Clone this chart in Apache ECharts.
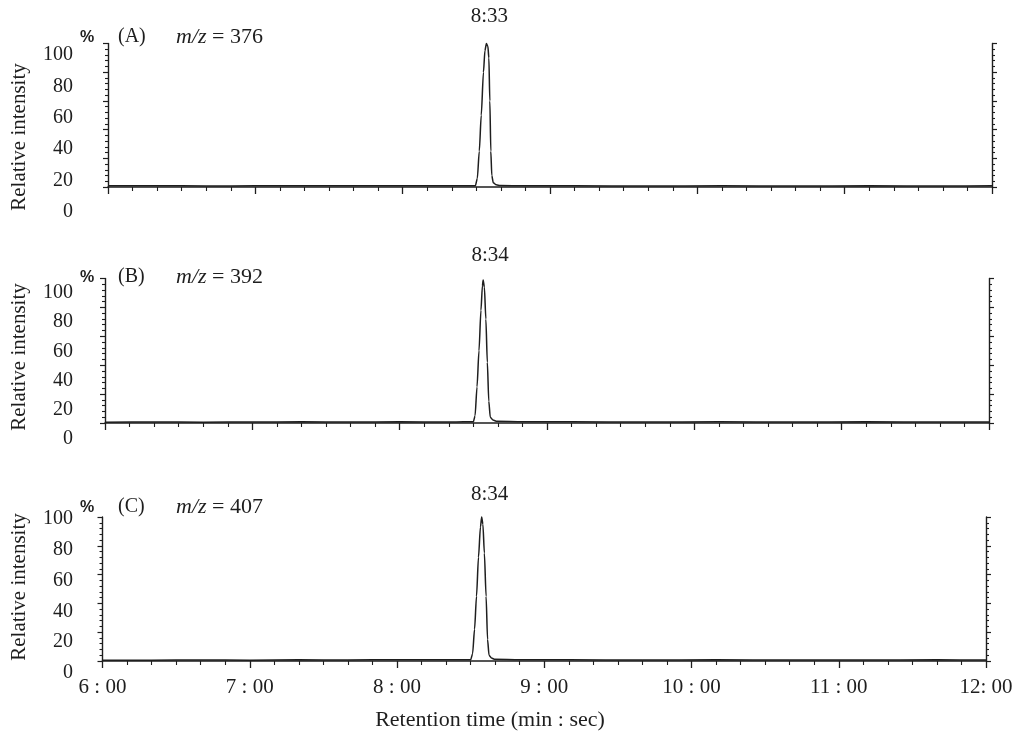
<!DOCTYPE html>
<html>
<head>
<meta charset="utf-8">
<script src="https://cdn.jsdelivr.net/npm/echarts@6/dist/echarts.min.js"></script>
<style>
html,body{margin:0;padding:0;background:#ffffff;}
#chart{width:1024px;height:738px;}
</style>
</head>
<body>
<div id="chart"></div>
<script>
// ---------------- data ----------------
const panelNames = ['(A)', '(B)', '(C)'];
const mzValues = ['376', '392', '407'];
const peakLabels = ['8:33', '8:34', '8:34'];
const xTickValues = [360, 420, 480, 540, 600, 660, 720];
const xTickLabels = ['6 : 00', '7 : 00', '8 : 00', '9 : 00', '10 : 00', '11 : 00', '12: 00'];
const yTickLabels = ['0', '20', '40', '60', '80', '100'];
const yAxisTitle = 'Relative intensity';
const xAxisTitle = 'Retention time (min : sec)';

// retention time in seconds, relative intensity in %
const timesA = [360, 380, 400, 420, 440, 460, 480, 500, 506, 509.6, 510.4, 511.2, 512.0, 512.9, 513.5, 514.1, 514.7, 515.1, 515.5, 515.9, 516.3, 516.9, 518.1, 519.7, 530, 550, 580, 610, 640, 670, 700, 720];
const intensityA = [0.8, 0.9, 0.7, 0.8, 0.9, 0.8, 0.9, 0.8, 0.9, 0.9, 6, 25, 50, 80, 95, 100, 98, 90, 60, 25, 8, 3, 1.5, 1.0, 0.8, 0.8, 0.7, 0.8, 0.7, 0.8, 0.7, 0.8];

const timesB = [360, 380, 400, 420, 440, 460, 480, 500, 506, 510.0, 510.7, 511.5, 512.3, 513.1, 513.7, 514.0, 514.5, 515.1, 515.7, 516.3, 516.9, 518.0, 519.6, 530, 550, 580, 610, 640, 670, 700, 720];
const intensityB = [0.6, 0.7, 0.6, 0.7, 0.8, 0.7, 0.8, 0.7, 0.8, 0.8, 5, 25, 50, 78, 95, 99, 94, 72, 42, 15, 4, 2, 1.2, 0.9, 0.8, 0.7, 0.8, 0.7, 0.8, 0.7, 0.7];

const timesC = [360, 380, 400, 420, 440, 460, 480, 500, 506, 510.0, 510.8, 511.6, 512.4, 513.2, 514.0, 514.5, 515.0, 515.6, 516.3, 516.9, 517.5, 518.5, 519.9, 530, 550, 580, 610, 640, 670, 700, 720];
const intensityC = [0.5, 0.6, 0.7, 0.6, 0.8, 0.7, 0.9, 0.8, 0.8, 0.8, 5, 22, 45, 72, 93, 100, 95, 75, 45, 15, 4, 2, 1.2, 0.9, 0.8, 0.7, 0.8, 0.7, 0.7, 0.8, 0.7];

const panelTimes = [timesA, timesB, timesC];
const panelIntensity = [intensityA, intensityB, intensityC];

// ---------------- layout ----------------
const plotLeft = [108, 105, 102.5];
const plotRight = [992, 989, 986];
const plotTop = [43.5, 278.5, 517];
const plotBase = [187, 423, 661];
const labelTop = [55, 293, 519];
const labelBottom = [212, 439, 673];
const labelRightEdge = 73;
const yTitleCenter = [137, 357, 587];
const headerY = [37, 277, 507];
const peakLabelDist = [17, 14, 12];
const peakLabelOffset = [3, 7, 8];

const ink = '#1e1e1e';
const serif = '"Liberation Serif", "Times New Roman", serif';

const grids = [], xAxes = [], yAxes = [], series = [], graphics = [];

for (let i = 0; i < 3; i++) {
  grids.push({
    left: plotLeft[i], width: plotRight[i] - plotLeft[i],
    top: plotTop[i], height: plotBase[i] - plotTop[i],
    containLabel: false
  });
  grids.push({
    left: plotLeft[i], width: plotRight[i] - plotLeft[i],
    top: labelTop[i], height: labelBottom[i] - labelTop[i],
    containLabel: false
  });

  xAxes.push({
    gridIndex: 2 * i, type: 'value', min: 360, max: 720, interval: 60,
    axisLine: { show: true, lineStyle: { color: ink, width: 1.6 } },
    axisTick: { show: true, length: 7, lineStyle: { color: ink, width: 1.3 } },
    minorTick: { show: true, splitNumber: 6, length: 4, lineStyle: { color: ink, width: 1.1 } },
    splitLine: { show: false },
    axisLabel: {
      show: i === 2, margin: 16, color: ink, fontFamily: serif, fontSize: 21,
      formatter: function (v) { const k = xTickValues.indexOf(v); return k >= 0 ? xTickLabels[k] : ''; }
    }
  });
  xAxes.push({
    gridIndex: 2 * i + 1, type: 'value', min: 0, max: 1, show: false
  });

  const plotY = {
    gridIndex: 2 * i, type: 'value', min: 0, max: 100, interval: 20,
    axisLine: { show: true, onZero: false, lineStyle: { color: ink, width: 1.4 } },
    axisTick: { show: true, length: 5, lineStyle: { color: ink, width: 1.2 } },
    minorTick: { show: true, splitNumber: 5, length: 3, lineStyle: { color: ink, width: 1.1 } },
    splitLine: { show: false },
    axisLabel: { show: false }
  };
  yAxes.push(Object.assign({ position: 'left' }, plotY));
  yAxes.push(Object.assign({}, plotY, { position: 'right' }));
  yAxes.push({
    gridIndex: 2 * i + 1, type: 'value', min: 0, max: 100, interval: 20, position: 'left',
    axisLine: { show: false }, axisTick: { show: false }, splitLine: { show: false },
    axisLabel: {
      show: true, margin: plotLeft[i] - labelRightEdge, color: ink, fontFamily: serif, fontSize: 20,
      formatter: function (v) { return yTickLabels[Math.round(v / 20)]; }
    }
  });

  series.push({
    type: 'line', xAxisIndex: 2 * i, yAxisIndex: 3 * i,
    data: panelTimes[i].map(function (t, k) { return [t, panelIntensity[i][k]]; }),
    showSymbol: false, smooth: 0.25, smoothMonotone: 'x',
    lineStyle: { color: ink, width: 1.5 },
    clip: false, silent: true,
    markPoint: {
      symbol: 'circle', symbolSize: 0, silent: true,
      data: [{ type: 'max' }],
      label: {
        show: true, position: 'top', distance: peakLabelDist[i], offset: [peakLabelOffset[i], 0],
        color: ink, fontFamily: serif, fontSize: 21,
        formatter: function () { return peakLabels[i]; }
      }
    }
  });

  graphics.push({
    type: 'text', x: 19, y: yTitleCenter[i], rotation: Math.PI / 2,
    style: { text: yAxisTitle, fill: ink, font: '21px ' + serif, textAlign: 'center', textVerticalAlign: 'middle' }
  });
  graphics.push({
    type: 'text', x: 80, y: headerY[i] + 1,
    style: { text: '%', fill: ink, font: 'bold 16px "Liberation Sans", Arial, sans-serif', textAlign: 'left', textVerticalAlign: 'middle' }
  });
  graphics.push({
    type: 'text', x: 118, y: headerY[i],
    style: { text: panelNames[i], fill: ink, font: '20px ' + serif, textAlign: 'left', textVerticalAlign: 'middle' }
  });
  graphics.push({
    type: 'text', x: 176, y: headerY[i],
    style: {
      text: '{it|m/z} = ' + mzValues[i], fill: ink, font: '22px ' + serif,
      textAlign: 'left', textVerticalAlign: 'middle',
      rich: { it: { fontStyle: 'italic', fontFamily: serif, fontSize: 22, fill: ink } }
    }
  });
}

graphics.push({
  type: 'text', x: 490, y: 720,
  style: { text: xAxisTitle, fill: ink, font: '22px ' + serif, textAlign: 'center', textVerticalAlign: 'middle' }
});

const chart = echarts.init(document.getElementById('chart'), null, { renderer: 'canvas' });
chart.setOption({
  animation: false,
  backgroundColor: '#ffffff',
  grid: grids,
  xAxis: xAxes,
  yAxis: yAxes,
  series: series,
  graphic: graphics
});
</script>
</body>
</html>
